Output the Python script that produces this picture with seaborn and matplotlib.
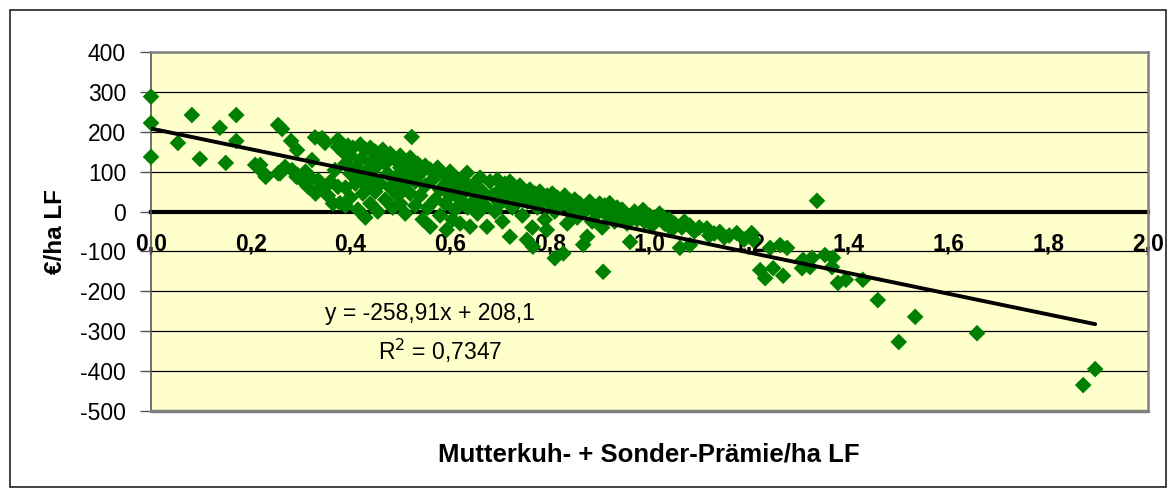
import matplotlib
matplotlib.use("Agg")
import matplotlib.pyplot as plt
from matplotlib.patches import Rectangle
import seaborn as sns
import pandas as pd
import numpy as np

# ---- data ----
x_left = [0.0, 0.0, 0.0, 0.054, 0.082, 0.098, 0.138, 0.15, 0.171, 0.171,
          0.209, 0.223, 0.23, 0.255, 0.263, 0.281, 0.293, 0.255, 0.269, 0.283,
          0.295, 0.309, 0.323, 0.329, 0.343, 0.349, 0.335, 0.349, 0.375, 0.375,
          0.369, 0.375, 0.379, 0.292, 0.303, 0.315, 0.259, 0.219, 0.33, 0.345,
          0.355, 0.36, 0.365, 0.31, 0.32]
y_left = [288, 222, 137, 172, 242, 132, 210, 122, 242, 177,
          117, 100, 87, 217, 207, 177, 154, 96, 112, 104,
          91, 71, 129, 186, 184, 172, 79, 62, 180, 162,
          104, 62, 21, 87, 79, 62, 96, 117, 45, 55,
          40, 75, 20, 100, 85]

x_mid = [0.38, 0.385, 0.39, 0.39, 0.39, 0.395, 0.40, 0.40, 0.40, 0.405,
         0.41, 0.41, 0.415, 0.42, 0.42, 0.42, 0.425, 0.43, 0.43, 0.43,
         0.435, 0.44, 0.44, 0.44, 0.445, 0.45, 0.45, 0.45, 0.455, 0.46,
         0.46, 0.465, 0.47, 0.47, 0.475, 0.48, 0.48, 0.485, 0.49, 0.49,
         0.495, 0.50, 0.50, 0.50, 0.505, 0.51, 0.51, 0.515, 0.52, 0.52,
         0.523, 0.525, 0.53, 0.53, 0.535, 0.54, 0.54, 0.545, 0.55, 0.55,
         0.555, 0.56, 0.56, 0.565, 0.57, 0.575, 0.58, 0.58, 0.585, 0.59,
         0.593, 0.595, 0.60, 0.60, 0.605, 0.61, 0.61, 0.615, 0.62, 0.62]
y_mid = [172, 150, 120, 60, 15, 165, 140, 95, 35, 160,
         110, 70, 5, 168, 130, 80, 45, 155, 100, -15,
         60, 160, 125, 20, 85, 150, 110, 50, 0, 140,
         70, 155, 120, 30, 95, 145, 60, 10, 130, 85,
         40, 140, 110, 20, 65, 125, -5, 90, 135, 45,
         187, 110, 75, 15, 120, 95, 40, -20, 115, 65,
         10, 105, -38, 80, 30, 110, 55, -10, 95, 20,
         -46, 75, 100, 40, -20, 85, 5, 60, 30, -30]

x_right = [0.625, 0.63, 0.634, 0.635, 0.64, 0.645, 0.65, 0.655, 0.66, 0.665,
           0.67, 0.674, 0.68, 0.685, 0.69, 0.695, 0.70, 0.70, 0.705, 0.71,
           0.715, 0.72, 0.72, 0.725, 0.73, 0.735, 0.74, 0.745, 0.75, 0.754,
           0.755, 0.76, 0.765, 0.766, 0.77, 0.775, 0.78, 0.785, 0.79, 0.794,
           0.795, 0.80, 0.805, 0.81, 0.81, 0.815, 0.82, 0.827, 0.83, 0.835,
           0.84, 0.845, 0.85, 0.855, 0.86, 0.867, 0.87, 0.875, 0.875, 0.88,
           0.885, 0.89, 0.895, 0.90, 0.905, 0.907]
y_right = [80, 50, 97, 10, -38, 65, 30, -5, 85, 50,
           15, -38, 75, 40, 0, 80, 55, 20, -25, 70,
           40, -63, 75, 10, 60, 35, 65, -10, 50, -71,
           25, 55, -40, -88, 45, 10, 50, 30, -20, -46,
           40, 20, 45, -117, 0, 35, 15, -105, 40, -30,
           25, 5, 30, -15, 20, -83, 0, -63, 15, 25,
           -25, 10, -5, 20, -40, -151]

x_tail = [0.91, 0.915, 0.92, 0.925, 0.93, 0.935, 0.94, 0.945, 0.95, 0.955,
          0.961, 0.965, 0.97, 0.975, 0.98, 0.987, 0.99, 1.0, 1.005, 1.01,
          1.02, 1.027, 1.03, 1.04, 1.045, 1.05, 1.061, 1.065, 1.07, 1.081,
          1.081, 1.09, 1.10, 1.115, 1.12, 1.13, 1.141, 1.15, 1.16, 1.175,
          1.19, 1.205, 1.208,
          1.336, 1.222, 1.232, 1.248, 1.268, 1.242, 1.262, 1.276, 1.308, 1.326,
          1.306, 1.322, 1.352, 1.368, 1.366, 1.378, 1.394, 1.428, 1.458, 1.533,
          1.5, 1.657, 1.894, 1.87]
y_tail = [15, -10, 21, 0, -25, 10, -15, 5, -5, -30,
          -76, -10, 0, -20, -5, 4, -25, -10, -35, -15,
          -5, -13, -30, -20, -45, -30, -91, -40, -25, -84,
          -35, -50, -40, -42, -60, -55, -51, -65, -60, -54,
          -70, -54, -71,
          27, -147, -167, -142, -161, -91, -84, -91, -121, -116,
          -142, -139, -109, -116, -139, -179, -171, -171, -222, -264,
          -327, -305, -395, -435]

trend_slope = -258.91
trend_intercept = 208.1
r_squared = "0,7347"

x_ticks = [0.0, 0.2, 0.4, 0.6, 0.8, 1.0, 1.2, 1.4, 1.6, 1.8, 2.0]
x_tick_labels = ["0,0", "0,2", "0,4", "0,6", "0,8", "1,0", "1,2", "1,4", "1,6", "1,8", "2,0"]
y_ticks = [-500, -400, -300, -200, -100, 0, 100, 200, 300, 400]
y_tick_labels = ["-500", "-400", "-300", "-200", "-100", "0", "100", "200", "300", "400"]

x_title = "Mutterkuh- + Sonder-Prämie/ha LF"
y_title = "€/ha LF"

# ---- build ----
df = pd.DataFrame({"x": x_left + x_mid + x_right + x_tail,
                   "y": y_left + y_mid + y_right + y_tail})
x_line = np.array([df["x"].min(), df["x"].max()])
line_df = pd.DataFrame({"x": x_line, "y": trend_slope * x_line + trend_intercept})

sns.set_theme(style="white")
plt.rcParams["font.family"] = ["Liberation Sans", "DejaVu Sans"]
plt.rcParams["text.color"] = "black"
plt.rcParams["xtick.color"] = "black"
plt.rcParams["ytick.color"] = "black"
plt.rcParams["axes.labelcolor"] = "black"

fig = plt.figure(figsize=(11.76, 4.96), dpi=100)
ax = fig.add_axes([151 / 1176, 1 - 411 / 496, 997 / 1176, 359 / 496])
ax.set_facecolor("#FFFFCC")

# outer chart frame
fig.patches.append(Rectangle((10 / 1176, 1 - 487 / 496), 1156 / 1176, 477 / 496,
                             transform=fig.transFigure, fill=False,
                             edgecolor="#222222", linewidth=1.2))

for yv in y_ticks:
    ax.axhline(yv, color="black", linewidth=0.9, zorder=1)

sns.lineplot(data=line_df, x="x", y="y", ax=ax, color="black", linewidth=2.8, zorder=4)
sns.scatterplot(data=df, x="x", y="y", ax=ax, marker="D", s=72, color="#008000",
                edgecolor="none", linewidth=0, zorder=3, clip_on=False)

ax.set_xlim(0, 2.0)
ax.set_ylim(-500, 400)

ax.set_xticks(x_ticks, x_tick_labels)
ax.set_yticks(y_ticks, y_tick_labels)

# x axis crossing at y=0
ax.spines["bottom"].set_position(("data", 0))
ax.spines["bottom"].set_color("black")
ax.spines["bottom"].set_linewidth(3)
ax.spines["bottom"].set_zorder(2)
for s in ["top", "right"]:
    ax.spines[s].set_color("#808080")
    ax.spines[s].set_linewidth(1.8)
ax.spines["left"].set_color("#555555")
ax.spines["left"].set_linewidth(1.2)
ax.axhline(-500, color="#808080", linewidth=2.5, zorder=5, clip_on=False)

ax.tick_params(axis="x", direction="out", length=6, width=2.2, color="black",
               pad=9, labelsize=16.5)
for lab in ax.get_xticklabels():
    lab.set_fontweight("bold")
ax.tick_params(axis="y", direction="out", length=8, width=1, color="#555555",
               pad=10, labelsize=16.5, left=True)

ax.set_xlabel("")
ax.set_ylabel("")
fig.text(55 / 1176, 1 - 232 / 496, y_title, rotation=90, ha="center", va="center",
         fontsize=17.5, fontweight="bold")
fig.text(649 / 1176, 1 - 454 / 496, x_title, ha="center", va="center",
         fontsize=18.5, fontweight="bold")

ax.text(0.35, -255, "y = -258,91x + 208,1", fontsize=16.5, ha="left", va="center")
ax.text(0.455, -350, "R$^{2}$ = " + r_squared, fontsize=16.5, ha="left", va="center")

fig.savefig("out.png", dpi=100)
